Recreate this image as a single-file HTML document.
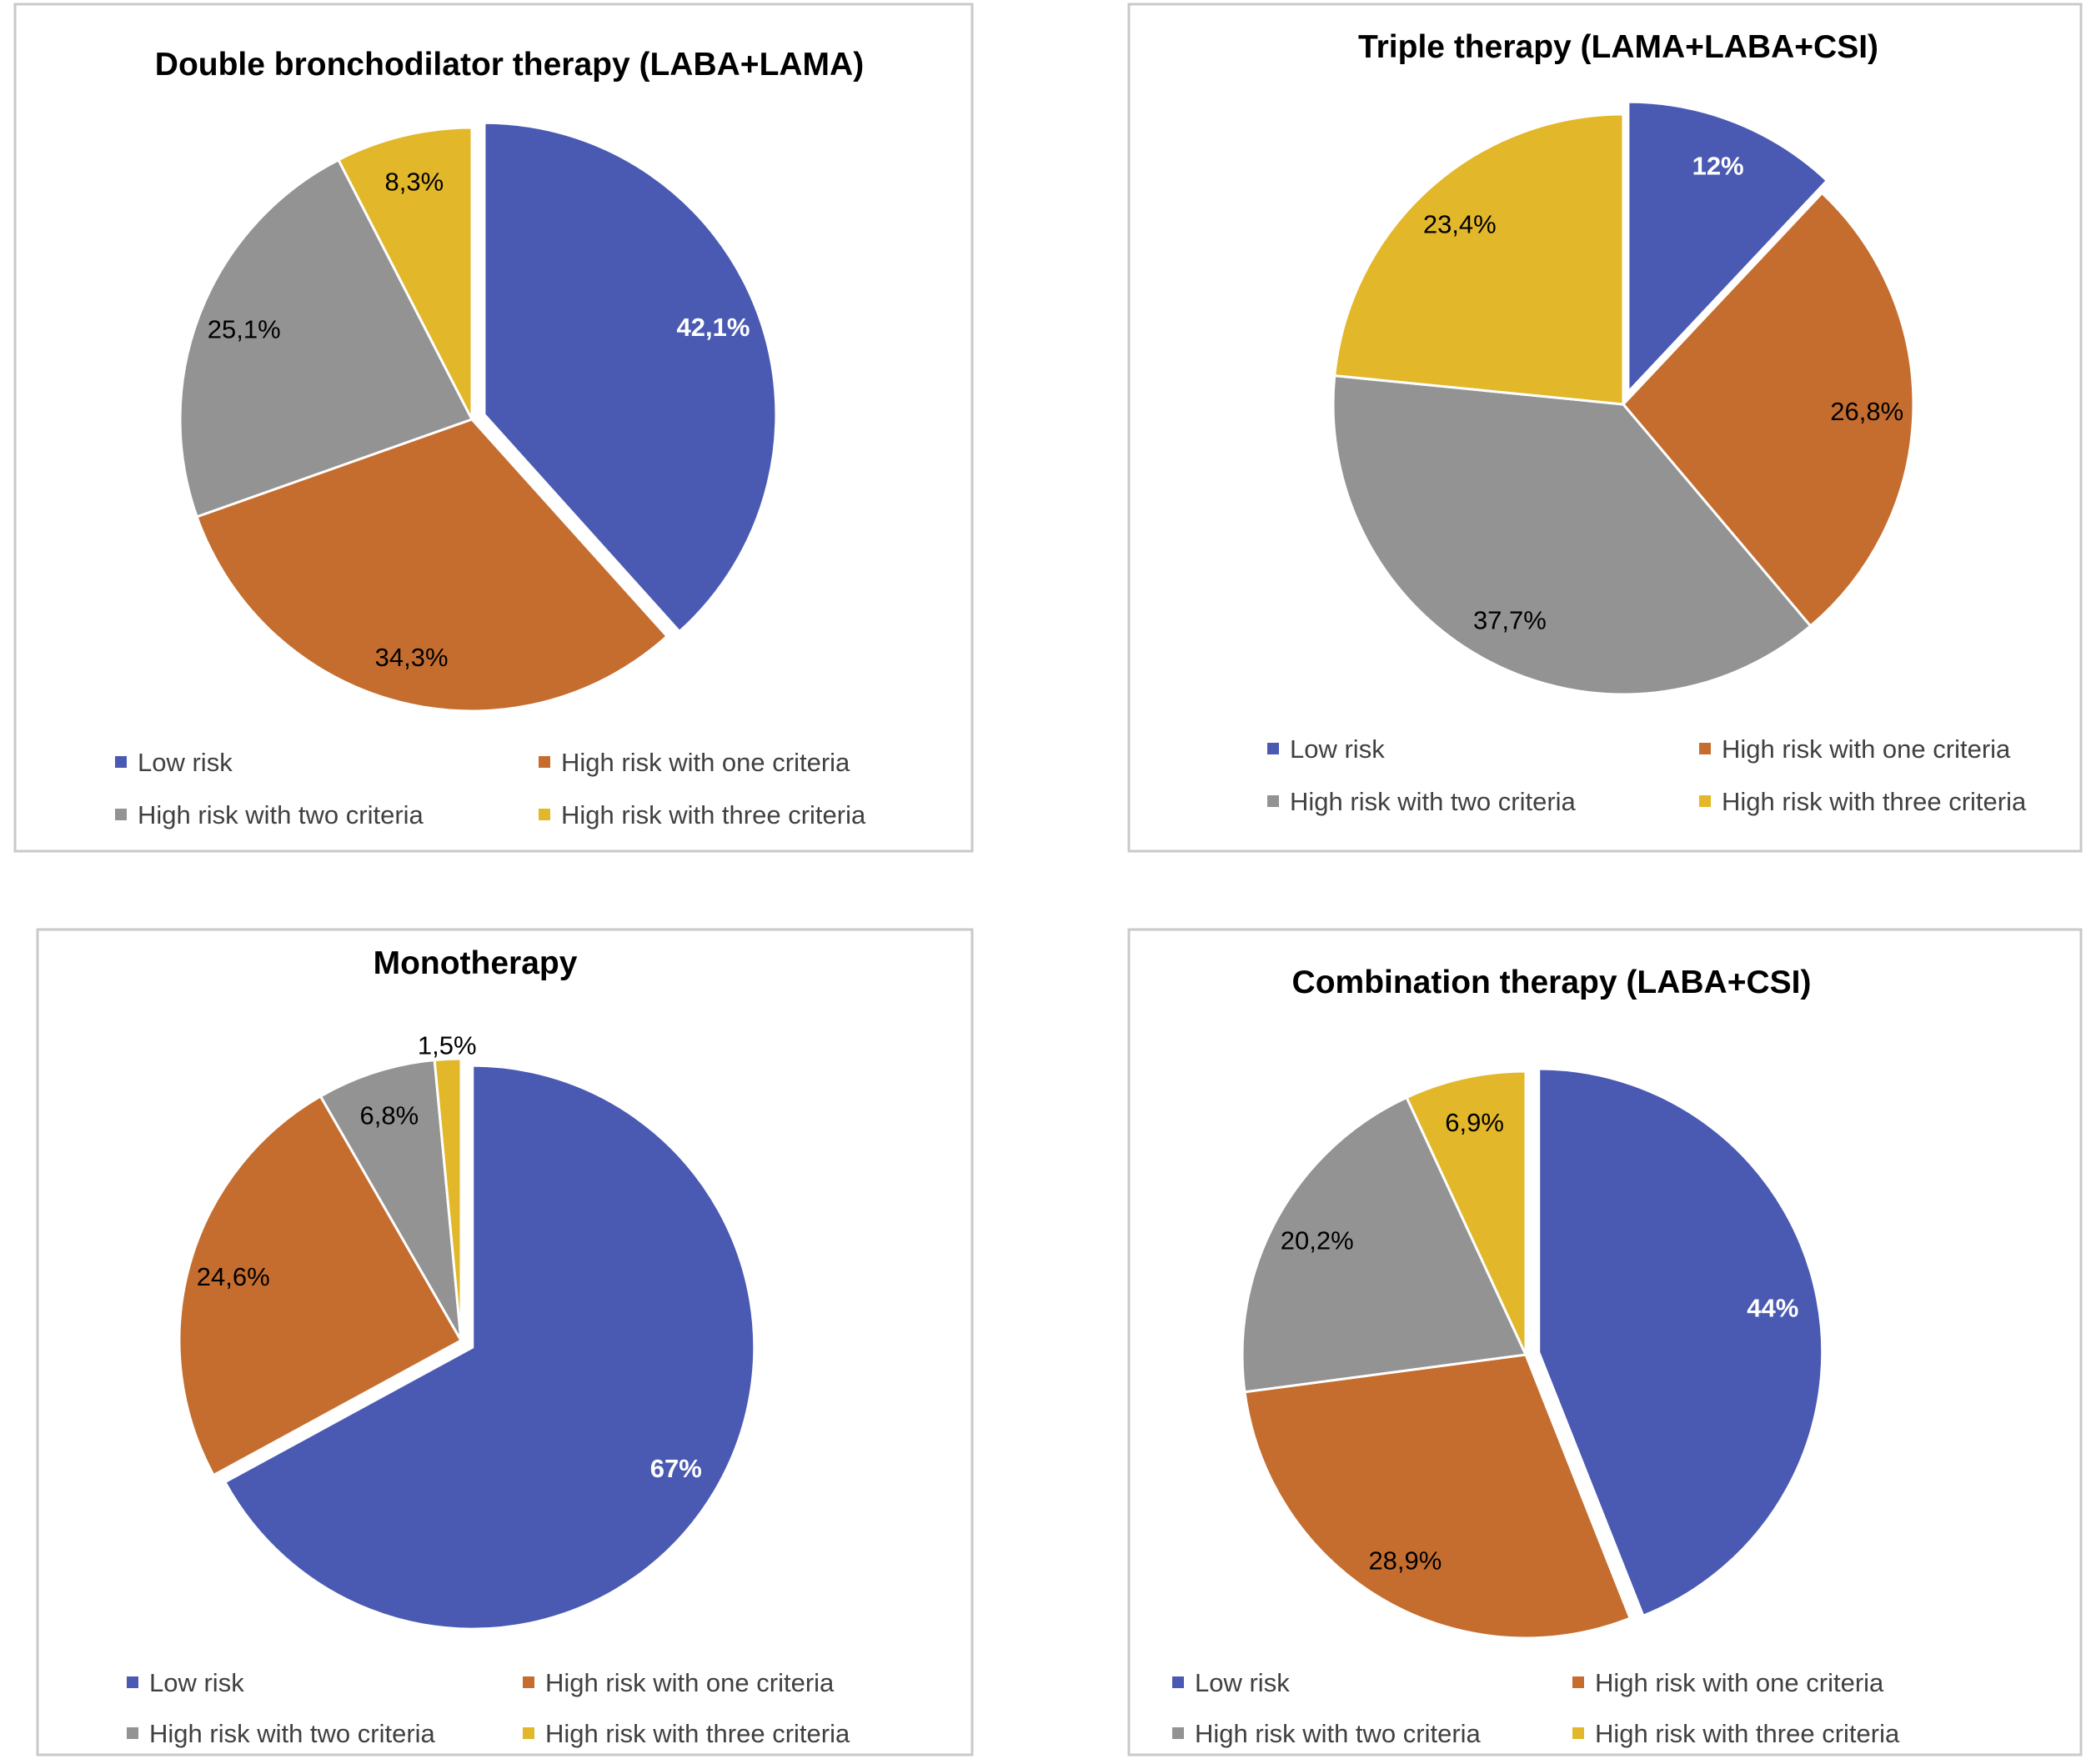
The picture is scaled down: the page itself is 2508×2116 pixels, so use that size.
<!DOCTYPE html>
<html><head><meta charset="utf-8">
<style>
body{margin:0;background:#fff;}
svg{display:block;font-family:"Liberation Sans","DejaVu Sans",sans-serif;}
</style></head>
<body>
<svg id="root" width="2508" height="2116" viewBox="0 0 2508 2116"></svg>
<script>
const categories = ["Low risk","High risk with one criteria","High risk with two criteria","High risk with three criteria"];
const colors = ["#4A5AB3","#C56D2F","#939393","#E2B72A"];
const titles = ["Double bronchodilator therapy (LABA+LAMA)","Triple therapy (LAMA+LABA+CSI)","Monotherapy","Combination therapy (LABA+CSI)"];
const valuesDouble = [42.1,34.3,25.1,8.3];
const valuesTriple = [12,26.8,37.7,23.4];
const valuesMono = [67,24.6,6.8,1.5];
const valuesCombo = [44,28.9,20.2,6.9];
const labelsDouble = ["42,1%","34,3%","25,1%","8,3%"];
const labelsTriple = ["12%","26,8%","37,7%","23,4%"];
const labelsMono = ["67%","24,6%","6,8%","1,5%"];
const labelsCombo = ["44%","28,9%","20,2%","6,9%"];

const layouts = [
 {box:[18,5,1148,1016], cx:566, cy:503, r:350, tx:611, ty:90, leg:[915,978], mx:[138,646]},
 {box:[1354,5,1142,1016], cx:1947, cy:485, r:348, tx:1941, ty:69, leg:[899,962], mx:[1520,2038]},
 {box:[45,1115,1121,990], cx:553, cy:1608, r:338, tx:570, ty:1168, leg:[2019,2080], mx:[152,627]},
 {box:[1354,1115,1142,990], cx:1830, cy:1625, r:340, tx:1861, ty:1191, leg:[2019,2080], mx:[1406,1886]}
];
const allValues = [valuesDouble,valuesTriple,valuesMono,valuesCombo];
const allLabels = [labelsDouble,labelsTriple,labelsMono,labelsCombo];
const names = ["double","triple","mono","combo"];
const NS="http://www.w3.org/2000/svg";
const root=document.getElementById('root');
function mk(tag,attrs,parent){const e=document.createElementNS(NS,tag);for(const k in attrs)e.setAttribute(k,attrs[k]);(parent||root).appendChild(e);return e;}
function pt(cx,cy,r,a){return [cx+r*Math.sin(a), cy-r*Math.cos(a)];}

layouts.forEach((L,i)=>{
  const g=mk('g',{});
  
  
  const b=mk('rect',{x:L.box[0],y:L.box[1],width:L.box[2],height:L.box[3],fill:'#fff',stroke:'#c9c9c9','stroke-width':3},g);
  
  
  const t=mk('text',{x:L.tx,y:L.ty,'text-anchor':'middle','font-size':39,'font-weight':'bold',fill:'#000'},g);
  t.textContent=titles[i];
  
  
  const vals=allValues[i], labs=allLabels[i];
  const total=vals.reduce((a,b)=>a+b,0);
  let a0=0;
  vals.forEach((v,j)=>{
    const sweep=v/total*2*Math.PI, a1=a0+sweep, mid=a0+sweep/2;
    const off = j===0?16:0;
    const cx=L.cx+off*Math.sin(mid), cy=L.cy-off*Math.cos(mid);
    const p0=pt(cx,cy,L.r,a0), p1=pt(cx,cy,L.r,a1);
    const large=sweep>Math.PI?1:0;
    const s=mk('path',{d:`M${cx},${cy} L${p0[0]},${p0[1]} A${L.r},${L.r} 0 ${large} 1 ${p1[0]},${p1[1]} Z`,fill:colors[j],stroke:'#fff','stroke-width':3},g);
    
    
    const lr = v/total<0.03 ? L.r*1.05 : L.r*0.84;
    const lp=pt(cx,cy,lr,mid);
    const lt=mk('text',{x:lp[0],y:lp[1]+11,'text-anchor':'middle','font-size':31,fill:j===0?'#fff':'#000','font-weight':j===0?'bold':'normal'},g);
    lt.textContent=labs[j];
    
    
    a0=a1;
  });
  categories.forEach((c,j)=>{
    const x=L.mx[j%2], y=L.leg[Math.floor(j/2)];
    const m=mk('rect',{x:x,y:y-8,width:14,height:14,fill:colors[j]},g);
    
    
    const lt=mk('text',{x:x+27,y:y+10,'font-size':31,fill:'#404040'},g);
    lt.textContent=c;
    
    
  });
});
</script>
</body></html>
